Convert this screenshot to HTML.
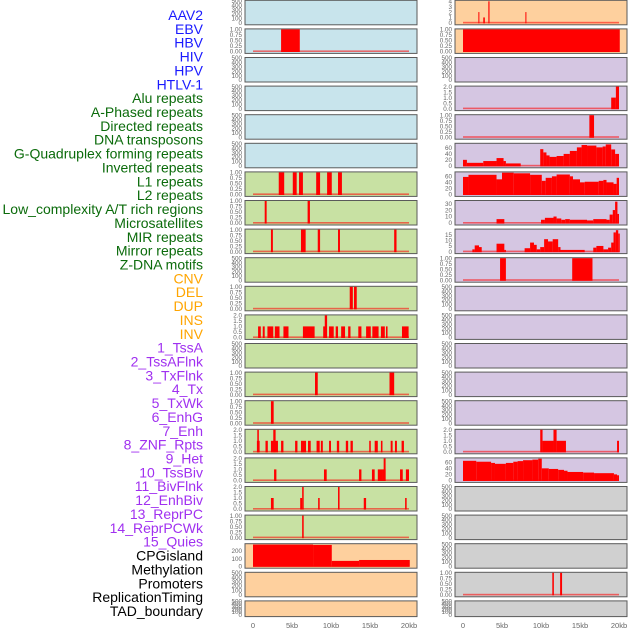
<!DOCTYPE html>
<html><head><meta charset="utf-8"><style>
body{margin:0;background:#fff;width:630px;height:630px;overflow:hidden}
svg{display:block}
</style></head><body>
<svg id="chart" width="630" height="630" xmlns="http://www.w3.org/2000/svg" font-family="Liberation Sans, sans-serif"></svg>
<script>
// ---- data ----
const trackLabels = ["AAV2","EBV","HBV","HIV","HPV","HTLV-1","Alu repeats","A-Phased repeats","Directed repeats","DNA transposons","G-Quadruplex forming repeats","Inverted repeats","L1 repeats","L2 repeats","Low_complexity A/T rich regions","Microsatellites","MIR repeats","Mirror repeats","Z-DNA motifs","CNV","DEL","DUP","INS","INV","1_TssA","2_TssAFlnk","3_TxFlnk","4_Tx","5_TxWk","6_EnhG","7_Enh","8_ZNF_Rpts","9_Het","10_TssBiv","11_BivFlnk","12_EnhBiv","13_ReprPC","14_ReprPCWk","15_Quies","CPGisland","Methylation","Promoters","ReplicationTiming","TAD_boundary"];
const labelGroups = [6,13,5,15,5];
const groupColors = ["#1a1aff","#0b6b0b","#ffa500","#a030f0","#000000"];
const xTickLabels = ["0","5kb","10kb","15kb","20kb"];
const xTickValues = [0,5,10,15,20];
const ticksEmpty = [0,100,200,300,400,500];
const ticksBin = [0,0.25,0.5,0.75,1];
const ticksTwo = [0,0.5,1,1.5,2];
// segments: [startKb, endKb, value]
const L_EBV = [[3.6,6.0,1]];
const L_L1 = [[3.3,4.0,1],[5.1,5.6,1],[5.9,6.4,1],[8.1,8.6,1],[9.5,10.1,1],[10.9,11.4,1]];
const L_L2 = [[1.5,1.75,1],[7.0,7.3,1]];
const L_LOW = [[2.3,2.55,1],[6.15,6.75,1],[8.3,8.6,1],[10.9,11.15,1],[18.1,18.4,1]];
const L_DEL = [[12.4,12.8,1],[12.95,13.3,1]];
const L_INS = [[0.65,1.0,1],[1.25,1.5,1],[1.85,2.6,1],[2.8,3.4,1],[3.9,4.55,1],[6.4,7.9,1],[9.0,9.4,1],[9.2,9.5,2],[9.75,10.35,1],[10.6,10.9,1],[11.3,11.8,1],[12.2,12.5,1],[13.5,13.9,1],[14.5,15.1,1],[15.3,16.1,1],[16.4,16.9,1],[17.05,17.25,1],[19.1,19.95,1]];
const L_R13 = [[7.95,8.3,1],[17.5,18.1,1]];
const L_R14 = [[2.3,2.65,1]];
const L_R15 = [[0.5,0.85,1],[0.55,0.75,2],[1.6,1.9,1],[2.3,3.2,1],[2.6,2.9,2],[3.6,3.9,1],[5.4,5.7,1],[6.15,6.8,1],[7.05,7.4,1],[8.15,8.55,1],[8.7,8.95,1],[9.75,10.0,1],[10.75,11.05,1],[11.9,12.2,1],[12.5,12.8,1],[14.9,15.1,1],[15.6,16.0,1],[16.4,16.6,1],[17.65,17.9,1],[18.2,18.45,1],[19.05,19.35,1]];
const L_R16 = [[2.7,3.0,1],[9.1,9.45,1],[13.6,13.9,1],[15.25,15.6,1],[16.0,16.6,1],[16.6,17.0,1],[16.75,17.0,2],[18.85,19.2,1],[19.6,20.0,1]];
const L_R17 = [[2.3,2.65,1],[6.05,6.3,1],[6.3,6.5,2],[8.35,8.55,1],[10.9,11.1,2],[14.2,14.5,1],[19.5,19.7,1]];
const L_R18 = [[6.3,6.5,1]];
const L_CPG = [[0,7.7,285],[7.7,10.1,280],[10.1,13.6,70],[13.6,20.1,82]];
const R_AAV = [[1.97,2.1,2],[2.6,2.8,1],[3.25,3.4,4],[8.0,8.12,2]];
const R_EBV = [[0,20.1,1]];
const R_ALU = [[19.0,19.6,1],[19.6,20.0,2]];
const R_APH = [[16.2,16.8,1]];
const R_GQ = [[0,0.5,20],[0.5,2.6,10],[2.6,4.3,16],[4.3,5.2,26],[5.2,5.5,16],[5.5,7.4,8],[9.9,10.3,56],[10.3,10.7,45],[10.7,11.1,35],[11.1,12.0,30],[12.0,12.9,33],[12.9,13.7,40],[13.7,14.6,50],[14.6,15.2,62],[15.2,15.9,70],[15.9,17.1,68],[17.1,17.9,62],[17.9,18.3,65],[18.3,19.0,72],[19.0,19.5,55],[19.5,20,40]];
const R_L1 = [[0,0.7,58],[0.7,4.3,65],[4.3,5.0,50],[5.0,6.5,72],[6.5,8.6,70],[8.6,10.1,65],[10.1,10.6,45],[10.6,11.4,55],[11.4,12.0,60],[12.0,13.7,66],[13.7,14.1,60],[14.1,15.0,50],[15.0,15.6,40],[15.6,17.4,42],[17.4,18.0,45],[18.0,18.4,48],[18.4,19.3,40],[19.3,19.7,35],[19.7,20,55]];
const R_LOW = [[4.3,5.3,6],[10.0,10.5,5],[10.5,11.6,8],[11.6,12.0,10],[12.0,12.6,7],[12.6,13.1,5],[13.1,13.7,6],[13.7,15.9,5],[15.9,16.7,4],[16.7,18.4,6],[18.4,18.8,5],[18.8,19.2,13],[19.2,19.5,20],[19.5,19.8,33],[19.8,20,14]];
const R_MIR = [[1.2,1.5,2],[1.5,2.05,5.5],[2.05,2.4,4],[4.3,5.3,7],[5.3,5.5,1.5],[7.9,8.6,3],[8.6,9.1,8],[9.1,9.45,6],[9.45,9.9,2],[9.9,10.4,4],[10.4,10.9,11],[10.9,11.5,9],[11.5,12.2,11],[12.2,12.5,4],[12.5,15.6,1.5],[16.7,17.1,3.5],[17.1,18.0,5],[18.0,18.6,2],[18.6,19.0,3.5],[19.0,19.3,8],[19.3,19.6,17],[19.6,19.9,19],[19.9,20.1,16]];
const R_ZDNA = [[4.75,5.5,1],[14.0,16.6,1]];
const R_R15 = [[9.9,10.2,2],[10.2,11.6,1],[11.6,12.0,2],[12.0,13.2,1],[19.75,20.0,1]];
const R_R16 = [[0,1.7,65],[1.7,3.6,62],[3.6,4.1,58],[4.1,5.5,55],[5.5,6.45,58],[6.45,7.0,62],[7.0,7.7,64],[7.7,8.9,67],[8.9,9.65,69],[9.65,10.1,72],[10.1,11.0,40],[11.0,12.2,38],[12.2,12.95,35],[12.95,13.4,32],[13.4,15.4,28],[15.4,16.8,26],[16.8,19.35,24],[19.35,19.75,20],[19.75,20.0,17]];
const R_PROM = [[11.45,11.65,1],[12.45,12.7,1]];
const BLUE="#c8e4ec",GREEN="#c8e1a3",ORANGE="#fed09e",PURPLE="#d5c6e2",GRAY="#d0d0d0";
// panels: column, row, bg, segments, ticks, ymax, name
const panels = [
 [0,0,BLUE,null,ticksEmpty,500,"aav2-left"],[0,1,BLUE,L_EBV,ticksBin,1,"ebv-left"],
 [0,2,BLUE,null,ticksEmpty,500,"hbv-left"],[0,3,BLUE,null,ticksEmpty,500,"hiv-left"],
 [0,4,BLUE,null,ticksEmpty,500,"hpv-left"],[0,5,BLUE,null,ticksEmpty,500,"htlv-left"],
 [0,6,GREEN,L_L1,ticksBin,1,"row6-left"],[0,7,GREEN,L_L2,ticksBin,1,"row7-left"],
 [0,8,GREEN,L_LOW,ticksBin,1,"row8-left"],[0,9,GREEN,null,ticksEmpty,500,"row9-left"],
 [0,10,GREEN,L_DEL,ticksBin,1,"row10-left"],[0,11,GREEN,L_INS,ticksTwo,2,"row11-left"],
 [0,12,GREEN,null,ticksEmpty,500,"row12-left"],[0,13,GREEN,L_R13,ticksBin,1,"row13-left"],
 [0,14,GREEN,L_R14,ticksBin,1,"row14-left"],[0,15,GREEN,L_R15,ticksTwo,2,"row15-left"],
 [0,16,GREEN,L_R16,ticksTwo,2,"row16-left"],[0,17,GREEN,L_R17,ticksTwo,2,"row17-left"],
 [0,18,GREEN,L_R18,ticksBin,1,"row18-left"],[0,19,ORANGE,L_CPG,[0,100,200],290,"row19-left"],
 [0,20,ORANGE,null,ticksEmpty,500,"row20-left"],[0,21,ORANGE,null,ticksEmpty,500,"row21-left"],
 [1,0,ORANGE,R_AAV,[0,1,2,3,4],4.1,"row0-right"],[1,1,ORANGE,R_EBV,ticksBin,1,"row1-right"],
 [1,2,PURPLE,null,ticksEmpty,500,"row2-right"],[1,3,PURPLE,R_ALU,ticksTwo,2,"row3-right"],
 [1,4,PURPLE,R_APH,ticksBin,1,"row4-right"],[1,5,PURPLE,R_GQ,[0,20,40,60],74,"row5-right"],
 [1,6,PURPLE,R_L1,[0,20,40,60],73,"row6-right"],[1,7,PURPLE,R_LOW,[0,10,20,30],34,"row7-right"],
 [1,8,PURPLE,R_MIR,[0,5,10,15],19.5,"row8-right"],[1,9,PURPLE,R_ZDNA,ticksBin,1,"row9-right"],
 [1,10,PURPLE,null,ticksEmpty,500,"row10-right"],[1,11,PURPLE,null,ticksEmpty,500,"row11-right"],
 [1,12,PURPLE,null,ticksEmpty,500,"row12-right"],[1,13,PURPLE,null,ticksEmpty,500,"row13-right"],
 [1,14,PURPLE,null,ticksEmpty,500,"row14-right"],[1,15,PURPLE,R_R15,ticksTwo,2,"row15-right"],
 [1,16,PURPLE,R_R16,[0,20,40,60],73,"row16-right"],[1,17,GRAY,null,ticksEmpty,500,"row17-right"],
 [1,18,GRAY,null,ticksEmpty,500,"row18-right"],[1,19,GRAY,null,ticksEmpty,500,"row19-right"],
 [1,20,GRAY,R_PROM,ticksBin,1,"row20-right"],[1,21,GRAY,null,ticksEmpty,500,"row21-right"]
];
// ---- drawing ----
const NS="http://www.w3.org/2000/svg";
const svg=document.getElementById('chart');
function mk(tag,attrs,parent){const e=document.createElementNS(NS,tag);for(const k in attrs)e.setAttribute(k,attrs[k]);(parent||svg).appendChild(e);return e;}
const colLeft=[245,455], panelW=172, x0Off=8, pxPerKb=7.8;
function xScale(col,kb){return colLeft[col]+x0Off+kb*pxPerKb;}
function rowTop(r){return 0.3+r*28.6;}
function rowH(r){return r===21?15.7:24.5;}
// labels
let li=0;
labelGroups.forEach((n,g)=>{for(let k=0;k<n;k++){const t=mk('text',{x:203,y:15+li*13.86+5,'text-anchor':'end','font-size':14,fill:groupColors[g]});


t.textContent=trackLabels[li];li++;}});
panels.forEach(p=>{
 const [col,row,bg,segs,ticks,ymax,name]=p;
 const top=rowTop(row),h=rowH(row),left=colLeft[col];
 const g=mk('g',{});
 
 
 const zeroY=top+h-2, topY=top+0.5;
 const ys=v=>zeroY-(v/ymax)*(zeroY-topY);
 mk('rect',{x:left,y:top,width:panelW,height:h,fill:bg,stroke:'#5a5a5a','stroke-width':1},g);
 ticks.forEach(tv=>{
  const t=mk('text',{x:left-3,y:ys(tv)+2.2,'text-anchor':'end','font-size':6.3,fill:'#666'},g);
  
  
  let s=String(tv); if(ticks===ticksBin) s=tv.toFixed(2); else if(ticks===ticksTwo) s=tv.toFixed(1);
  t.textContent=s;
 });
 if(segs){
  const bl=mk('rect',{x:xScale(col,0),y:zeroY-1,width:20*pxPerKb,height:1.6,fill:'rgba(255,0,0,0.55)'},g);
  
  
  segs.forEach(s=>{
   const x1=xScale(col,s[0]),x2=xScale(col,s[1]);
   const b=mk('rect',{x:x1,y:ys(s[2]),width:Math.max(1,x2-x1),height:zeroY-ys(s[2])+0.6,fill:'#ff0000'},g);
   
   
  });
 }
});
[0,1].forEach(col=>{xTickValues.forEach((v,i)=>{
 const t=mk('text',{x:xScale(col,v),y:628,'text-anchor':'middle','font-size':7.5,fill:'#666'});
 
 
 t.textContent=xTickLabels[i];
});});
</script>
</body></html>
